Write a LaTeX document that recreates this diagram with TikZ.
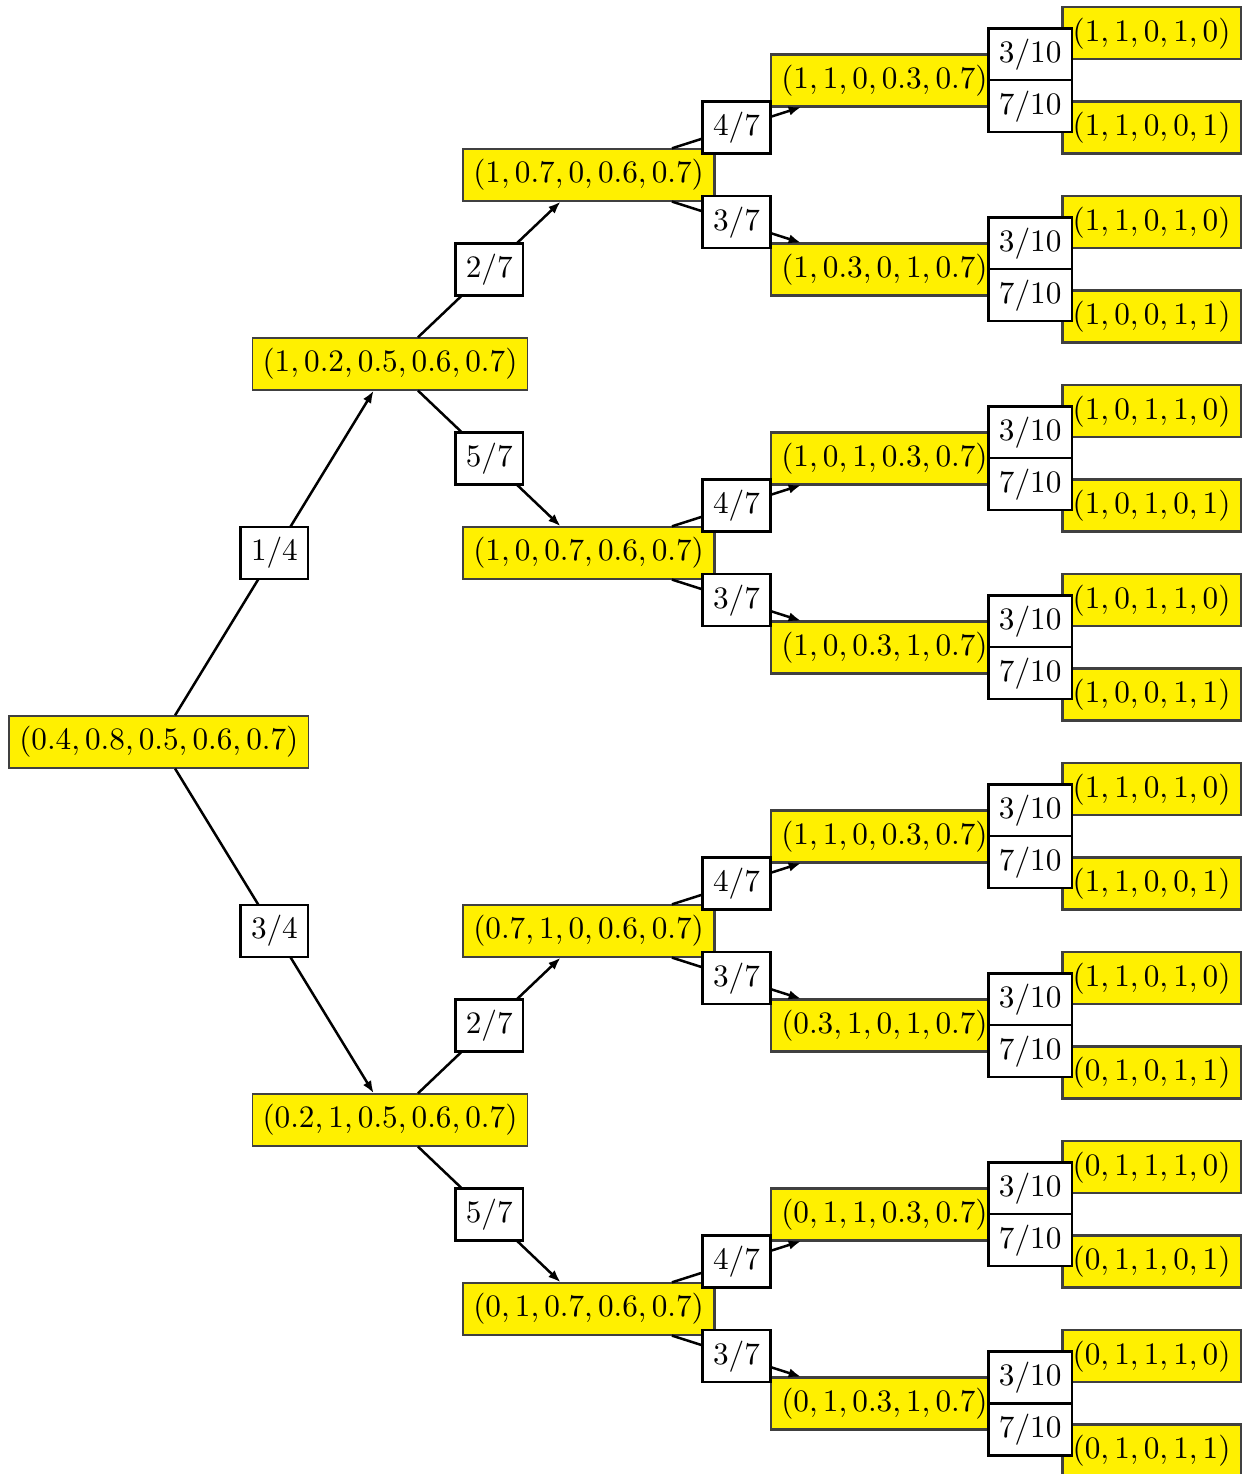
\documentclass[tikz,border=0pt]{standalone}
\usepackage{xcolor}
\definecolor{stateyellow}{RGB}{255, 240, 0}
\usetikzlibrary{arrows.meta}

\begin{document}
\begin{tikzpicture}[
  state/.style={draw=black!75, fill=stateyellow},
  prob/.style={draw, thick, fill=white},
  grow'=right,
  edge from parent/.style={draw, thick, -{Latex[length=4pt,width=3pt]}},
  level 1/.style={level distance=2.604cm, sibling distance=8.516cm},
  level 2/.style={level distance=2.237cm, sibling distance=4.258cm},
  level 3/.style={level distance=3.333cm, sibling distance=2.129cm},
  level 4/.style={level distance=3.009cm, sibling distance=1.0645cm}
]
\useasboundingbox (-1.789,-8.246) rectangle (12.326,8.358);
\node[state] (s) {$(0.4, 0.8, 0.5, 0.6, 0.7)$}
  child {node[state] (s1) {$(1, 0.2, 0.5, 0.6, 0.7)$}
    child {node[state] (s11) {$(1, 0.7, 0, 0.6, 0.7)$}
      child {node[state] (s111) {$(1, 1, 0, 0.3, 0.7)$}
        child {node[state] (s1111) {$(1, 1, 0, 1, 0)$} edge from parent node[prob] (p1111) {$3/10$}}
        child {node[state] (s1112) {$(1, 1, 0, 0, 1)$} edge from parent node[prob] (p1112) {$7/10$}}
        edge from parent node[prob] (p111) {$4/7$}}
      child {node[state] (s112) {$(1, 0.3, 0, 1, 0.7)$}
        child {node[state] (s1121) {$(1, 1, 0, 1, 0)$} edge from parent node[prob] (p1121) {$3/10$}}
        child {node[state] (s1122) {$(1, 0, 0, 1, 1)$} edge from parent node[prob] (p1122) {$7/10$}}
        edge from parent node[prob] (p112) {$3/7$}}
      edge from parent node[prob] (p11) {$2/7$}}
    child {node[state] (s12) {$(1, 0, 0.7, 0.6, 0.7)$}
      child {node[state] (s121) {$(1, 0, 1, 0.3, 0.7)$}
        child {node[state] (s1211) {$(1, 0, 1, 1, 0)$} edge from parent node[prob] (p1211) {$3/10$}}
        child {node[state] (s1212) {$(1, 0, 1, 0, 1)$} edge from parent node[prob] (p1212) {$7/10$}}
        edge from parent node[prob] (p121) {$4/7$}}
      child {node[state] (s122) {$(1, 0, 0.3, 1, 0.7)$}
        child {node[state] (s1221) {$(1, 0, 1, 1, 0)$} edge from parent node[prob] (p1221) {$3/10$}}
        child {node[state] (s1222) {$(1, 0, 0, 1, 1)$} edge from parent node[prob] (p1222) {$7/10$}}
        edge from parent node[prob] (p122) {$3/7$}}
      edge from parent node[prob] (p12) {$5/7$}}
    edge from parent node[prob] (p1) {$1/4$}}
  child {node[state] (s2) {$(0.2, 1, 0.5, 0.6, 0.7)$}
    child {node[state] (s21) {$(0.7, 1, 0, 0.6, 0.7)$}
      child {node[state] (s211) {$(1, 1, 0, 0.3, 0.7)$}
        child {node[state] (s2111) {$(1, 1, 0, 1, 0)$} edge from parent node[prob] (p2111) {$3/10$}}
        child {node[state] (s2112) {$(1, 1, 0, 0, 1)$} edge from parent node[prob] (p2112) {$7/10$}}
        edge from parent node[prob] (p211) {$4/7$}}
      child {node[state] (s212) {$(0.3, 1, 0, 1, 0.7)$}
        child {node[state] (s2121) {$(1, 1, 0, 1, 0)$} edge from parent node[prob] (p2121) {$3/10$}}
        child {node[state] (s2122) {$(0, 1, 0, 1, 1)$} edge from parent node[prob] (p2122) {$7/10$}}
        edge from parent node[prob] (p212) {$3/7$}}
      edge from parent node[prob] (p21) {$2/7$}}
    child {node[state] (s22) {$(0, 1, 0.7, 0.6, 0.7)$}
      child {node[state] (s221) {$(0, 1, 1, 0.3, 0.7)$}
        child {node[state] (s2211) {$(0, 1, 1, 1, 0)$} edge from parent node[prob] (p2211) {$3/10$}}
        child {node[state] (s2212) {$(0, 1, 1, 0, 1)$} edge from parent node[prob] (p2212) {$7/10$}}
        edge from parent node[prob] (p221) {$4/7$}}
      child {node[state] (s222) {$(0, 1, 0.3, 1, 0.7)$}
        child {node[state] (s2221) {$(0, 1, 1, 1, 0)$} edge from parent node[prob] (p2221) {$3/10$}}
        child {node[state] (s2222) {$(0, 1, 0, 1, 1)$} edge from parent node[prob] (p2222) {$7/10$}}
        edge from parent node[prob] (p222) {$3/7$}}
      edge from parent node[prob] (p22) {$5/7$}}
    edge from parent node[prob] (p2) {$3/4$}};
\end{tikzpicture}
\end{document}
